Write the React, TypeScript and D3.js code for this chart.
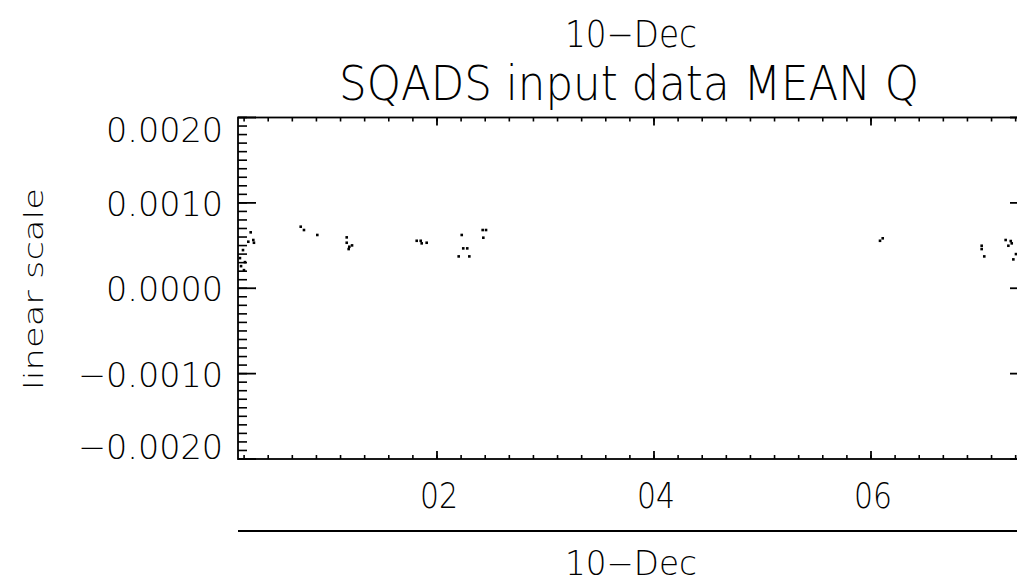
import React from "react";
import * as d3 from "d3";

// Observation times (hours on 10-Dec) and MEAN Q values
const hours: number[] = [
  0.184, 0.194, 0.212, 0.221, 0.230, 0.261, 0.283, 0.307, 0.313,
  0.744, 0.774, 0.897,
  1.168, 1.168, 1.186, 1.192, 1.217,
  1.813, 1.850, 1.859, 1.905,
  2.200, 2.228, 2.242, 2.279, 2.298, 2.421, 2.427, 2.452,
  6.083, 6.108,
  7.020, 7.020, 7.044, 7.241, 7.266, 7.288, 7.297, 7.312, 7.336,
];
const meanQ: number[] = [
  0.000353, 0.000259, 0.000447, 0.000212, 0.000306, 0.000545, 0.000655, 0.000565, 0.000533,
  0.000721, 0.000682, 0.000624,
  0.000596, 0.000533, 0.000459, 0.000486, 0.000502,
  0.000556, 0.000556, 0.000526, 0.000533,
  0.000373, 0.000624, 0.000467, 0.000467, 0.000373, 0.000682, 0.000592, 0.000682,
  0.000556, 0.000585,
  0.000498, 0.000459, 0.000373, 0.000565, 0.000498, 0.000553, 0.000526, 0.000338, 0.0004,
];

const yTicks: number[] = [0.002, 0.001, 0.0, -0.001, -0.002];
const yTickLabels: string[] = ["0.0020", "0.0010", "0.0000", "\u22120.0010", "\u22120.0020"];
const xTicks: number[] = [2, 4, 6];
const xTickLabels: string[] = ["02", "04", "06"];
const dateLabel = "10\u2212Dec";
const title = "SQADS input data MEAN Q";
const yTitle = "linear scale";

const W = 1017;
const H = 585;
const left = 238;
const right = 1028;
const top = 117.5;
const bottom = 459;
const FONT = "'DejaVu Sans', 'Liberation Sans', sans-serif";
const FW = 200;

export default function App() {
  const x = d3.scaleLinear().domain([0.166, 7.447]).range([left, right]);
  const y = d3.scaleLinear().domain([-0.002, 0.002]).range([bottom, top]);

  const xMinor: number[] = d3.range(0, 81).map((k) => (k * 2) / 9).filter((h) => h >= 0.166 && h <= 7.447);
  const yMinor: number[] = d3.range(-20, 21).map((k) => k * 0.0001);

  const pts = hours.map((h, i) => ({ h, v: meanQ[i] }));

  return (
    <svg width={W} height={H} style={{ position: "absolute", left: 0, top: 0, background: "#fff" }}>
      <rect x={0} y={0} width={W} height={H} fill="#fff" />
      <rect x={left} y={top} width={right - left} height={bottom - top} fill="none" stroke="#000" strokeWidth={1.8} />
      {yMinor.map((v, i) => (
        <g key={"ym" + i}>
          <line x1={left} x2={left + 9} y1={y(v)} y2={y(v)} stroke="#000" strokeWidth={1.6} />
          <line x1={right} x2={right - 9} y1={y(v)} y2={y(v)} stroke="#000" strokeWidth={1.6} />
        </g>
      ))}
      {yTicks.map((v, i) => {
        const yy = y(v);
        const ly = Math.min(Math.max(yy, top + 11), bottom - 13);
        return (
          <g key={"yM" + i}>
            <line x1={left} x2={left + 18} y1={yy} y2={yy} stroke="#000" strokeWidth={1.8} />
            <line x1={right} x2={right - 18} y1={yy} y2={yy} stroke="#000" strokeWidth={1.8} />
            <text
              x={223}
              y={ly + 13}
              textAnchor="end"
              fontFamily={FONT}
              fontWeight={FW}
              fontSize={34}
              textLength={yTickLabels[i].startsWith("\u2212") ? 145 : 117}
              lengthAdjust="spacingAndGlyphs"
              fill="#000"
            >
              {yTickLabels[i]}
            </text>
          </g>
        );
      })}
      {xMinor.map((h, i) => (
        <g key={"xm" + i}>
          <line x1={x(h)} x2={x(h)} y1={bottom} y2={bottom - 4} stroke="#000" strokeWidth={1.6} />
          <line x1={x(h)} x2={x(h)} y1={top} y2={top + 4} stroke="#000" strokeWidth={1.6} />
        </g>
      ))}
      {xTicks.map((h, i) => (
        <g key={"xM" + i}>
          <line x1={x(h)} x2={x(h)} y1={bottom} y2={bottom - 8} stroke="#000" strokeWidth={1.8} />
          <line x1={x(h)} x2={x(h)} y1={top} y2={top + 8} stroke="#000" strokeWidth={1.8} />
          <text
            x={x(h) + 2}
            y={508}
            textAnchor="middle"
            fontFamily={FONT}
            fontWeight={FW}
            fontSize={35}
            textLength={38}
            lengthAdjust="spacingAndGlyphs"
            fill="#000"
          >
            {xTickLabels[i]}
          </text>
        </g>
      ))}
      {pts.map((p, i) => (
        <rect key={"p" + i} x={x(p.h) - 1.3} y={y(p.v) - 1.3} width={2.6} height={2.6} fill="#000" />
      ))}
      <line x1={left} x2={right} y1={531} y2={531} stroke="#000" strokeWidth={2} />
      <text x={631} y={575} textAnchor="middle" fontFamily={FONT} fontWeight={FW} fontSize={33} textLength={132} lengthAdjust="spacingAndGlyphs" fill="#000">
        {dateLabel}
      </text>
      <text x={631} y={47} textAnchor="middle" fontFamily={FONT} fontWeight={FW} fontSize={37} textLength={132} lengthAdjust="spacingAndGlyphs" fill="#000">
        {dateLabel}
      </text>
      <text x={629} y={100} textAnchor="middle" fontFamily={FONT} fontWeight={FW} fontSize={48} textLength={580} lengthAdjust="spacingAndGlyphs" fill="#000">
        {title}
      </text>
      <text
        transform={`translate(43, 289) rotate(-90)`}
        textAnchor="middle"
        fontFamily={FONT}
        fontWeight={FW}
        fontSize={27}
        textLength={202}
        lengthAdjust="spacingAndGlyphs"
        fill="#000"
      >
        {yTitle}
      </text>
    </svg>
  );
}
